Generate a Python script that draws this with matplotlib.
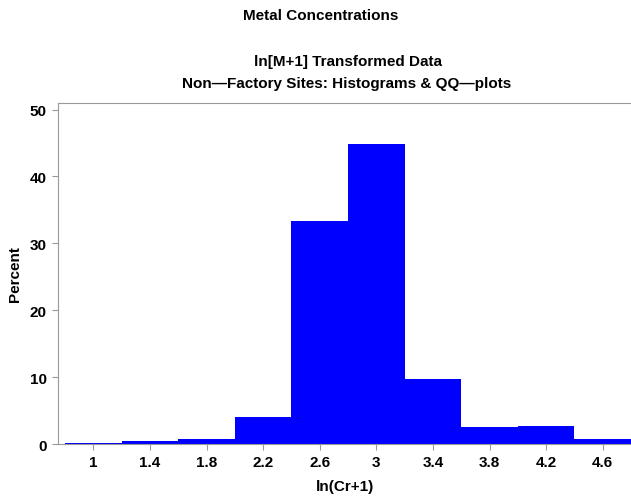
import matplotlib
matplotlib.use("Agg")
from matplotlib import pyplot as plt

# histogram bins (left edges, width 0.4) and percent per bin
bin_left = [0.8, 1.2, 1.6, 2.0, 2.4, 2.8, 3.2, 3.6, 4.0, 4.4]
bin_width = 0.4
percent = [0.2, 0.5, 0.8, 4.0, 33.3, 44.8, 9.7, 2.5, 2.7, 0.8]
x_ticks = [1, 1.4, 1.8, 2.2, 2.6, 3, 3.4, 3.8, 4.2, 4.6]
x_tick_labels = ["1", "1.4", "1.8", "2.2", "2.6", "3", "3.4", "3.8", "4.2", "4.6"]
y_ticks = [0, 10, 20, 30, 40, 50]

plt.rcParams["font.family"] = ["Liberation Sans", "DejaVu Sans"]
plt.rcParams["font.weight"] = "bold"

fig = plt.figure(figsize=(6.31, 5.02), dpi=100)
ax = fig.add_axes([0.092, 0.1135, 0.908, 0.6795])

ax.bar(bin_left, percent, width=bin_width, align="edge", color="#0000ff", edgecolor="none")

ax.set_xlim(0.75, 4.8)
ax.set_ylim(0, 51)
ax.set_xticks(x_ticks)
ax.set_xticklabels(x_tick_labels)
ax.set_yticks(y_ticks)

for side in ["left", "top", "bottom"]:
    ax.spines[side].set_color("#999999")
    ax.spines[side].set_linewidth(0.8)
ax.spines["right"].set_visible(False)
ax.tick_params(direction="out", length=4, width=0.8, color="#999999", labelsize=11, pad=4)

ax.set_xlabel("ln(Cr+1)", fontsize=11, fontweight="bold", labelpad=7)
ax.set_ylabel("Percent", fontsize=11, fontweight="bold", labelpad=6)

fig.text(0.508, 0.968, "Metal Concentrations", ha="center", va="center", fontsize=11, fontweight="bold")
fig.text(0.551, 0.877, "ln[M+1] Transformed Data", ha="center", va="center", fontsize=11, fontweight="bold")
fig.text(0.550, 0.833, "Non\u2014Factory Sites: Histograms & QQ\u2014plots", ha="center", va="center",
         fontsize=11, fontweight="bold")

fig.savefig("out.png", dpi=100)
plt.close(fig)
